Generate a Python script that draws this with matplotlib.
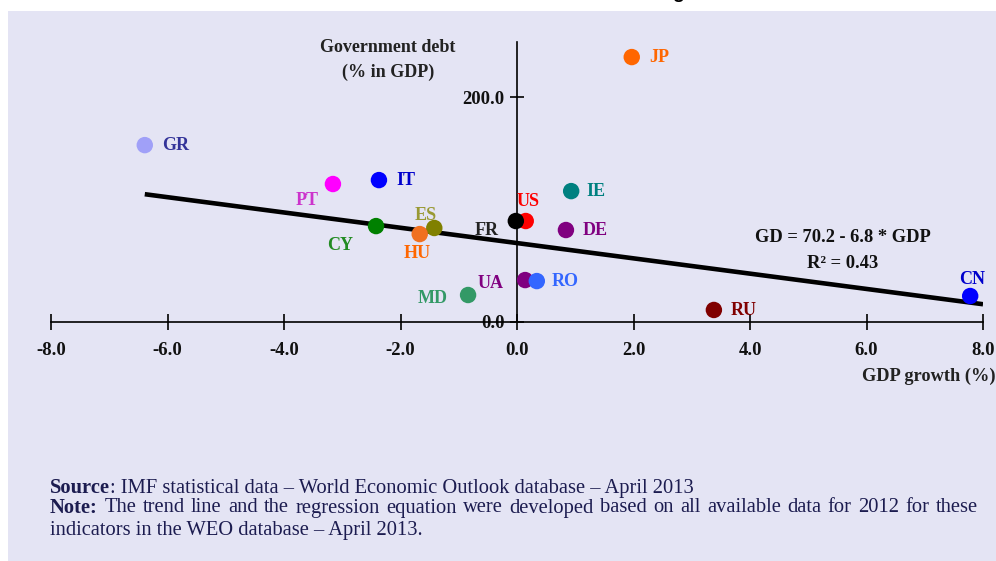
import matplotlib
matplotlib.use("Agg")
import matplotlib.pyplot as plt
from matplotlib.patches import Rectangle
import numpy as np

# ---- data ----
countries = ["GR", "PT", "IT", "IE", "US", "FR", "ES", "CY", "HU", "DE", "JP", "UA", "RO", "MD", "RU", "CN"]
gdp_growth = [-6.39, -3.16, -2.37, 0.93, 0.15, -0.02, -1.42, -2.42, -1.67, 0.84, 1.97, 0.14, 0.34, -0.84, 3.38, 7.78]
gov_debt = [157.3, 122.7, 126.2, 116.4, 89.8, 89.8, 83.6, 85.3, 78.2, 81.8, 235.6, 37.3, 36.4, 24.0, 10.7, 23.1]
trend_intercept = 70.2
trend_slope = -6.8
r_squared = 0.43
x_ticks = [-8.0, -6.0, -4.0, -2.0, 0.0, 2.0, 4.0, 6.0, 8.0]
y_ticks = [0.0, 200.0]

# ---- styles ----
marker_colors = ["#A0A0F8", "#FF00FF", "#0000FF", "#008080", "#FF0000", "#000000", "#808000", "#008000",
                 "#F07020", "#800080", "#FF6600", "#800080", "#3366FF", "#339966", "#800000", "#0000FF"]
label_colors = ["#333399", "#CC33CC", "#0000CC", "#008080", "#FF0000", "#222222", "#999933", "#228B22",
                "#FF6600", "#800080", "#FF6600", "#800080", "#3366FF", "#339966", "#800000", "#0000CC"]
# (dx, dy) in pixels, horizontal alignment
label_offsets = [(17, 0, "left"), (-26, -16, "center"), (17, 0, "left"), (15, 0, "left"),
                 (2, 20, "center"), (-29, -9, "center"), (-9, 12, "center"), (-36, -19, "center"),
                 (-3, -19, "center"), (17, 0, "left"), (17, 0, "left"), (-35, -3, "center"),
                 (15, 0, "left"), (-35, -3, "center"), (17, -1, "left"), (2, 17, "center")]

W, H = 996, 561
fig = plt.figure(figsize=(W / 100, H / 100), dpi=100, facecolor="white")
bg = "#E4E4F4"
fig.patches.append(Rectangle((8 / W, 0), 1 - 8 / W, 1 - 11 / H, transform=fig.transFigure,
                             facecolor=bg, edgecolor="none", zorder=-5))

serif = "Liberation Serif"
ax = fig.add_axes([51 / W, (H - 322) / H, 932 / W, 280 / H])
ax.set_facecolor("none")
ax.set_xlim(-8, 8)
ax.set_ylim(0, 249)

for s in ["top", "right"]:
    ax.spines[s].set_visible(False)
ax.spines["left"].set_position(("data", 0))
ax.spines["bottom"].set_position(("data", 0))
ax.spines["left"].set_linewidth(1.2)
ax.spines["bottom"].set_linewidth(1.2)

ax.set_xticks(x_ticks)
ax.set_xticklabels([f"{v:.1f}" for v in x_ticks])
ax.set_yticks(y_ticks)
ax.set_yticklabels([f"{v:.1f}" for v in y_ticks])
ax.tick_params(axis="x", direction="inout", length=11, width=1.2, pad=9, labelsize=13.5)
ax.tick_params(axis="y", direction="inout", length=10, width=1.2, pad=4, labelsize=13.5)
for lab in ax.get_xticklabels() + ax.get_yticklabels():
    lab.set_fontfamily(serif)
    lab.set_fontweight("bold")
    lab.set_color("#111111")

# trend line
xt = np.array([min(gdp_growth), 8.0])
ax.plot(xt, trend_intercept + trend_slope * xt, color="black", lw=3.3, zorder=2, solid_capstyle="butt")

# points
ax.scatter(gdp_growth, gov_debt, s=140, c=marker_colors, zorder=3, clip_on=False, edgecolors="none")
for i, c in enumerate(countries):
    dx, dy, ha = label_offsets[i]
    ax.annotate(c, (gdp_growth[i], gov_debt[i]), xytext=(dx, dy), textcoords="offset pixels",
                ha=ha, va="center", fontsize=13, fontweight="bold", family=serif,
                color=label_colors[i], zorder=4)

# axis titles
fig.text(388 / W, 1 - 48 / H, "Government debt", ha="center", va="center", fontsize=13,
         fontweight="bold", family=serif, color="#222222")
fig.text(388 / W, 1 - 72 / H, "(% in GDP)", ha="center", va="center", fontsize=13,
         fontweight="bold", family=serif, color="#222222")
fig.text(995 / W, 1 - 376 / H, "GDP growth (%)", ha="right", va="center", fontsize=13.2,
         fontweight="bold", family=serif, color="#222222")

# equation
fig.text(843 / W, 1 - 237 / H, f"GD = {trend_intercept:.1f} - {abs(trend_slope):.1f} * GDP", ha="center",
         va="center", fontsize=13.3, fontweight="bold", family=serif, color="#111111")
fig.text(843 / W, 1 - 263 / H, f"R\u00b2 = {r_squared:.2f}", ha="center",
         va="center", fontsize=13.3, fontweight="bold", family=serif, color="#111111")

# cut-off title fragment at very top
fig.text(678 / W, 1 + 2 / H, "g", ha="center", va="baseline", fontsize=14, fontweight="bold",
         family="Liberation Sans", color="black")

# footer
fc = "#1C1C50"
fs = 14.8
renderer = fig.canvas.get_renderer()


def put(x_px, y_px, s, bold=False):
    t = fig.text(x_px / W, 1 - y_px / H, s, ha="left", va="center", fontsize=fs,
                 fontweight="bold" if bold else "normal", family=serif, color=fc)
    bb = t.get_window_extent(renderer)
    return bb.x1


x = put(50, 488, "Source", bold=True)
put(x, 488, ": IMF statistical data \u2013 World Economic Outlook database \u2013 April 2013")

# justified note line
words = ["Note:"] + "The trend line and the regression equation were developed based on all available data for 2012 for these".split()
widths = []
objs = []
for k, w in enumerate(words):
    t = fig.text(0, 1 - 508 / H, w, ha="left", va="center", fontsize=fs,
                 fontweight="bold" if k == 0 else "normal", family=serif, color=fc)
    objs.append(t)
    widths.append(t.get_window_extent(renderer).width)
gap = (978 - 50 - sum(widths)) / (len(words) - 1)
xp = 50
for t, w in zip(objs, widths):
    t.set_x(xp / W)
    xp += w + gap

put(50, 530, "indicators in the WEO database \u2013 April 2013.")

fig.savefig("out.png", dpi=100, facecolor="white")
